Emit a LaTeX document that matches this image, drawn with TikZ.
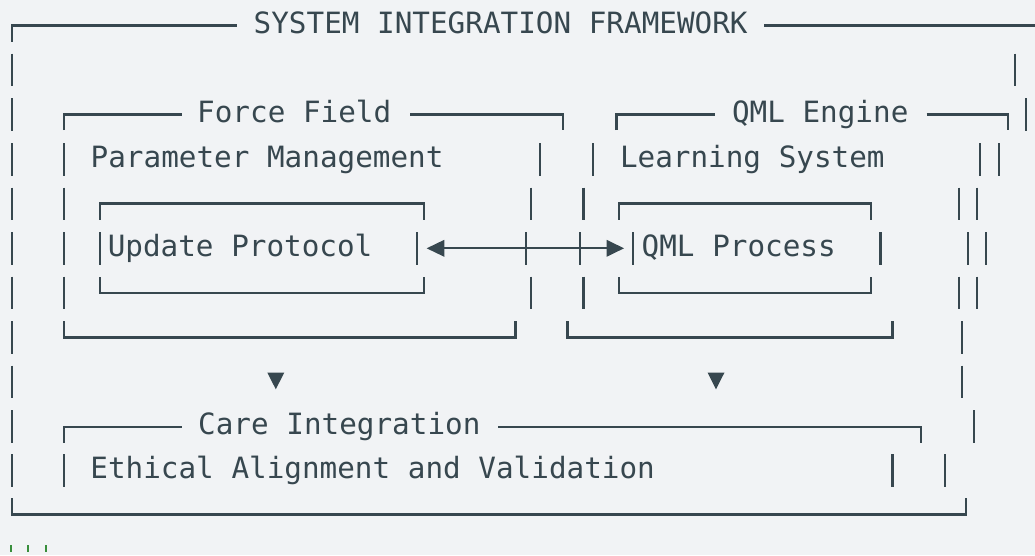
\documentclass[tikz,border=0pt]{standalone}
\usepackage{fontspec}
\setmonofont{DejaVu Sans Mono}
\definecolor{bgc}{RGB}{241,243,245}
\definecolor{ink}{RGB}{55,71,79}
\definecolor{tick}{RGB}{56,142,60}
\newcommand\vb[2]{\draw[ln] (#1,#2-24) -- (#1,#2+8.5);}
\tikzset{
  ln/.style={draw=ink, line width=2.3pt, line cap=butt, line join=miter},
  lbl/.style={text=ink, inner sep=0pt, anchor=base west, font=\fontsize{29.3}{32}\selectfont\ttfamily},
  tri/.style={fill=ink, draw=none},
}
\begin{document}
\begin{tikzpicture}[x=1pt,y=-1pt]
\fill[bgc] (0,0) rectangle (1035,555);
\useasboundingbox (0,0) rectangle (1035,555);
% ---- texts
\node[lbl] (title) at (253.5,33) {SYSTEM INTEGRATION FRAMEWORK};
\node[lbl] (ff) at (197,122) {Force Field};
\node[lbl] (qe) at (731.8,122) {QML Engine};
\node[lbl] (pm) at (90.5,167) {Parameter Management};
\node[lbl] (ls) at (619.8,167) {Learning System};
\node[lbl] (up) at (107.6,256) {Update Protocol};
\node[lbl] (qp) at (641.5,256) {QML Process};
\node[lbl] (ci) at (198,434) {Care Integration};
\node[lbl] (ea) at (90.2,478) {Ethical Alignment and Validation};
% ---- outer frame
\draw[ln] (12,41.5) -- (12,25.5) -- (237,25.5);
\draw[ln] (764.4,25.5) -- (1035,25.5);
\foreach \b in {77.5,122,167,211.5,256,300.5,345,389.5,434,478} {\vb{12}{\b}}
\draw[ln] (12,498) -- (12,514.5) -- (965.7,514.5) -- (965.7,498);
\vb{1015}{77.5}
\vb{1025.7}{122}
% ---- row 3 boxes tops
\draw[ln] (64,130) -- (64,114.5) -- (182,114.5);
\draw[ln] (410,114.5) -- (563.3,114.5) -- (563.3,130);
\draw[ln] (616.5,130) -- (616.5,114.5) -- (715,114.5);
\draw[ln] (926.5,114.5) -- (1007.7,114.5) -- (1007.7,130);
% ---- row 4
\foreach \x in {64,540,593,980.3,998.7} {\vb{\x}{167}}
% ---- row 5
\foreach \x in {64,530.7,583.6,959.3,977.3} {\vb{\x}{211.5}}
\draw[ln] (100,219.5) -- (100,203.5) -- (424.3,203.5) -- (424.3,219.5);
\draw[ln] (618.7,219.5) -- (618.7,203.5) -- (871.2,203.5) -- (871.2,219.5);
% ---- row 6
\foreach \x in {64,100,417.3,525.7,580,633.3,880.4,968.3,986.3} {\vb{\x}{256}}
\coordinate (aL) at (426.7,248.3);
\coordinate (aR) at (624,248.3);
\draw[ln] ([xshift=16pt]aL) -- ([xshift=-16pt]aR);
\fill[tri] (aL) -- ++(17.6,-8.5) -- ++(0,17) -- cycle;
\fill[tri] (aR) -- ++(-17.4,-8.5) -- ++(0,17) -- cycle;
% ---- row 7
\foreach \x in {64,530.7,583.6,959.3,977.3} {\vb{\x}{300.5}}
\draw[ln] (100,277) -- (100,293) -- (424.3,293) -- (424.3,277);
\draw[ln] (618.7,277) -- (618.7,293) -- (871.2,293) -- (871.2,277);
% ---- row 8
\draw[ln] (64,321) -- (64,337.5) -- (515.4,337.5) -- (515.4,321);
\draw[ln] (567.6,321) -- (567.6,337.5) -- (892.4,337.5) -- (892.4,321);
\vb{962.3}{345}
% ---- row 9
\vb{962.3}{389.5}
\fill[tri] (267.3,372.5) -- (284.3,372.5) -- (275.8,389.3) -- cycle;
\fill[tri] (707.5,372.5) -- (724.5,372.5) -- (716,389.3) -- cycle;
% ---- row 10
\draw[ln] (64,442.5) -- (64,427) -- (182,427);
\draw[ln] (498,427) -- (921.3,427) -- (921.3,442.5);
\vb{974.3}{434}
% ---- row 11
\foreach \x in {64,892.4,945} {\vb{\x}{478}}
% ---- cut-off ticks
\foreach \x in {11,28.3,46} {\draw[draw=tick, line width=2.3pt] (\x,545) -- (\x,552);}
\end{tikzpicture}
\end{document}
